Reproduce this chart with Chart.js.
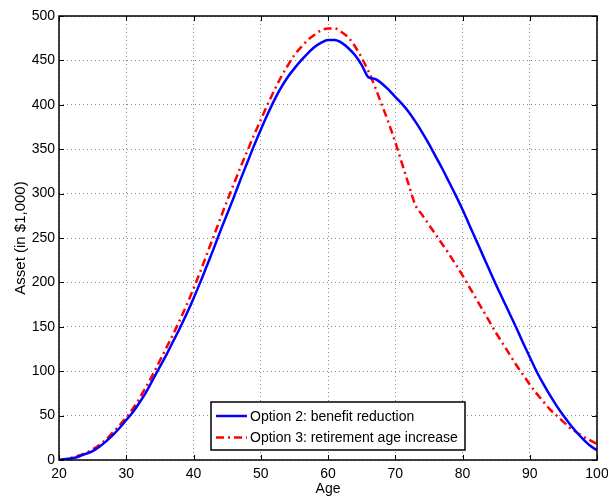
<!DOCTYPE html>
<html>
<head>
<meta charset="utf-8">
<script src="https://cdn.jsdelivr.net/npm/chart.js@4"></script>
<style>
  html, body { margin: 0; padding: 0; background: #fff; }
  #wrap { width: 608px; height: 498px; }
</style>
</head>
<body>
<div id="wrap"><canvas id="c" width="608" height="498"></canvas></div>
<script>
// ages 20..100, one point per year
var ages = [20,21,22,23,24,25,26,27,28,29,30,31,32,33,34,35,36,37,38,39,40,41,42,43,44,45,46,47,48,49,50,
  51,52,53,54,55,56,57,58,59,60,61,62,63,64,65,66,67,68,69,70,71,72,73,74,75,76,77,78,79,80,
  81,82,83,84,85,86,87,88,89,90,91,92,93,94,95,96,97,98,99,100];

// Option 2: benefit reduction
var option2 = [0,1,2,4,7,10,15,21,28,36,45,54,65,77,91,105,119,134,149,165,182,
  200,219,238,258,277,296,316,335,354,372,389,405,419,431,441,450,458,465,470,473,
  473,470,464,456,445,431,429,424,417,409,401,392,381,369,356,342,328,313,298,282,
  265,248,231,214,197,181,165,149,132,116,100,86,73,61,50,40,31,23,16,11];

// Option 3: retirement age increase
var option3 = [0,1,3,5,8,12,17,23,31,39,48,58,70,83,97,112,127,142,158,175,193,
  212,232,252,272,292,311,330,348,366,383,400,416,431,444,456,465,473,479,484,486,
  486,482,476,466,453,438,420,400,380,358,334,310,287,276,265,254,243,232,220,208,
  195,182,169,156,143,131,119,107,96,85,75,66,57,50,43,36,31,26,22,18];

var xTicks = [20,30,40,50,60,70,80,90,100];
var yTicks = [0,50,100,150,200,250,300,350,400,450,500];

var seriesLabels = ["Option 2: benefit reduction", "Option 3: retirement age increase"];

function pts(vals) {
  return ages.map(function (a, i) { return { x: a, y: vals[i] }; });
}

var FONT = "'Liberation Sans', Arial, Helvetica, sans-serif";

// frame, inward ticks, legend box
var framePlugin = {
  id: "frame",
  afterDraw: function (chart) {
    var ctx = chart.ctx, a = chart.chartArea;
    var xs = chart.scales.x, ys = chart.scales.y;
    ctx.save();
    ctx.strokeStyle = "#000";
    ctx.lineWidth = 1.5;
    ctx.strokeRect(a.left, a.top, a.right - a.left, a.bottom - a.top);
    ctx.lineWidth = 1;
    ctx.beginPath();
    xTicks.forEach(function (t) {
      var px = Math.round(xs.getPixelForValue(t)) + 0.5;
      ctx.moveTo(px, a.bottom); ctx.lineTo(px, a.bottom - 5);
      ctx.moveTo(px, a.top); ctx.lineTo(px, a.top + 5);
    });
    yTicks.forEach(function (t) {
      var py = Math.round(ys.getPixelForValue(t)) + 0.5;
      ctx.moveTo(a.left, py); ctx.lineTo(a.left + 5, py);
      ctx.moveTo(a.right, py); ctx.lineTo(a.right - 5, py);
    });
    ctx.stroke();

    // legend
    var bx = 211, by = 402, bw = 254, bh = 48;
    ctx.fillStyle = "#fff";
    ctx.fillRect(bx, by, bw, bh);
    ctx.lineWidth = 1.5;
    ctx.strokeStyle = "#000";
    ctx.strokeRect(bx, by, bw, bh);
    ctx.font = "14px " + FONT;
    ctx.textBaseline = "middle";
    chart.data.datasets.forEach(function (ds, i) {
      var y = by + 14 + i * 21.5;
      ctx.strokeStyle = ds.borderColor;
      ctx.lineWidth = ds.borderWidth;
      ctx.setLineDash(ds.borderDash || []);
      ctx.beginPath();
      ctx.moveTo(bx + 5, y); ctx.lineTo(bx + 36, y);
      ctx.stroke();
      ctx.setLineDash([]);
      ctx.fillStyle = "#000";
      ctx.fillText(ds.label, bx + 39, y + 1);
    });
    ctx.restore();
  }
};

new Chart(document.getElementById("c").getContext("2d"), {
  type: "line",
  data: {
    datasets: [
      {
        label: seriesLabels[0],
        data: pts(option2),
        borderColor: "#0000ff",
        borderWidth: 2.5,
        pointRadius: 0,
        cubicInterpolationMode: "monotone"
      },
      {
        label: seriesLabels[1],
        data: pts(option3),
        borderColor: "#ff0000",
        borderWidth: 2.5,
        borderDash: [8, 4, 2, 4],
        pointRadius: 0,
        cubicInterpolationMode: "monotone"
      }
    ]
  },
  options: {
    responsive: false,
    animation: false,
    layout: { padding: { top: 16, right: 11, left: 0, bottom: 0 } },
    plugins: { legend: { display: false }, tooltip: { enabled: false } },
    scales: {
      x: {
        type: "linear",
        min: 20, max: 100,
        afterBuildTicks: function (s) { s.ticks = xTicks.map(function (v) { return { value: v }; }); },
        afterFit: function (s) { s.height = 38; s.paddingLeft = 0; s.paddingRight = 0; },
        grid: { color: "#888", drawTicks: false, lineWidth: 1 },
        border: { display: false, dash: [1, 3] },
        ticks: { color: "#000", padding: 6, font: { family: FONT, size: 14 }, maxRotation: 0 },
        title: { display: true, text: "Age", color: "#000", font: { family: FONT, size: 14 }, padding: { top: 0, bottom: 0 } }
      },
      y: {
        min: 0, max: 500,
        afterBuildTicks: function (s) { s.ticks = yTicks.map(function (v) { return { value: v }; }); },
        afterFit: function (s) { s.width = 59; s.paddingTop = 0; s.paddingBottom = 0; },
        grid: { color: "#888", drawTicks: false, lineWidth: 1 },
        border: { display: false, dash: [1, 3] },
        ticks: { color: "#000", padding: 4, font: { family: FONT, size: 14 } },
        title: { display: true, text: "Asset (in $1,000)", color: "#000", font: { family: FONT, size: 15 }, padding: { top: 12, bottom: 0 } }
      }
    }
  },
  plugins: [framePlugin]
});
</script>
</body>
</html>
